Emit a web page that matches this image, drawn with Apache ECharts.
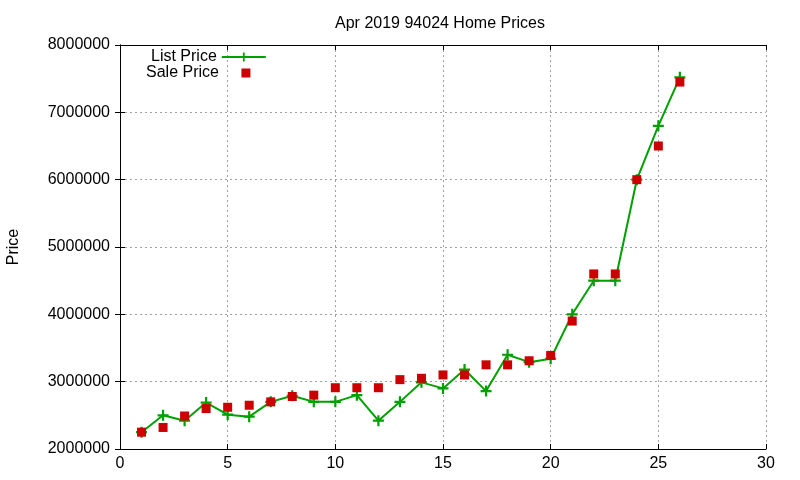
<!DOCTYPE html>
<html><head><meta charset="utf-8">
<script src="https://cdn.jsdelivr.net/npm/echarts@6/dist/echarts.min.js"></script>
<style>html,body{margin:0;padding:0;background:#fff}#c{width:800px;height:480px}</style>
</head><body><div id="c"></div>
<script>
const titleText = 'Apr 2019 94024 Home Prices';
const yAxisName = 'Price';
const indices = [1,2,3,4,5,6,7,8,9,10,11,12,13,14,15,16,17,18,19,20,21,22,23,24,25,26];
const listPrice = [2250000,2500000,2420000,2690000,2510000,2480000,2700000,2790000,2700000,2700000,2800000,2420000,2700000,2990000,2900000,3180000,2860000,3400000,3290000,3340000,4000000,4500000,4500000,6000000,6800000,7520000];
const salePrice = [2250000,2320000,2490000,2600000,2620000,2650000,2700000,2780000,2800000,2910000,2910000,2910000,3030000,3050000,3100000,3100000,3250000,3250000,3310000,3390000,3900000,4600000,4600000,6000000,6500000,7450000];

const FONT = 'Liberation Sans';
const plus = 'path://M4,0H6V4H10V6H6V10H4V6H0V4H4Z';
const GREEN = '#00a000', RED = '#cc0000';
const chart = echarts.init(document.getElementById('c'), null, {renderer:'canvas'});
const gridLine = {show:true, lineStyle:{color:'#a0a0a0', type:[2,3], width:1}};
const tick = {show:true, inside:true, length:5, lineStyle:{color:'#000'}};
const axLine = {show:true, lineStyle:{color:'#000', width:1}};
const legText = {fontFamily:FONT, fontSize:16, color:'#000'};
chart.setOption({
  animation:false,
  backgroundColor:'#fff',
  title:{text:titleText, left:435, top:11, textAlign:'center',
    textStyle:{fontFamily:FONT, fontSize:16, fontWeight:'normal', color:'#000'}},
  legend:[
    {orient:'vertical', left:146, top:44, align:'right', itemWidth:44, itemHeight:11,
     textStyle:legText, data:['List Price']},
    {orient:'vertical', left:141, top:60, align:'right', itemWidth:44, itemHeight:9,
     symbolKeepAspect:true, textStyle:legText,
     data:[{name:'Sale Price', icon:'path://M0,0H10V10H0Z'}]}
  ],
  grid:{left:120, right:34, top:45, bottom:31, show:false, outerBoundsMode:'none', containLabel:false},
  xAxis:[{type:'value', min:0, max:30, interval:5,
    axisLine:axLine, axisTick:tick,
    axisLabel:{fontFamily:FONT, fontSize:16, color:'#000', margin:7}, splitLine:gridLine},
   {type:'value', position:'top', min:0, max:30, interval:5,
    axisLine:axLine, axisTick:tick, axisLabel:{show:false}, splitLine:{show:false}}],
  yAxis:[{type:'value', min:2000000, max:8000000, interval:1000000, name:yAxisName,
    nameLocation:'middle', nameGap:98, nameRotate:90,
    nameTextStyle:{fontFamily:FONT, fontSize:16, color:'#000'},
    axisLine:axLine, axisTick:tick,
    axisLabel:{fontFamily:FONT, fontSize:16, color:'#000', margin:10, formatter:v=>String(v)},
    splitLine:gridLine},
   {type:'value', position:'right', min:2000000, max:8000000, interval:1000000,
    axisLine:axLine, axisTick:tick, axisLabel:{show:false}, splitLine:{show:false}}],
  series:[
    {name:'List Price', type:'line', data:indices.map((x,i)=>[x,listPrice[i]]),
     symbol:plus, symbolSize:11, showAllSymbol:true,
     lineStyle:{color:GREEN, width:2}, itemStyle:{color:GREEN}, z:2},
    {name:'Sale Price', type:'scatter', data:indices.map((x,i)=>[x,salePrice[i]]),
     symbol:'rect', symbolSize:9, itemStyle:{color:RED, opacity:1}, z:3}
  ]
});
</script></body></html>
